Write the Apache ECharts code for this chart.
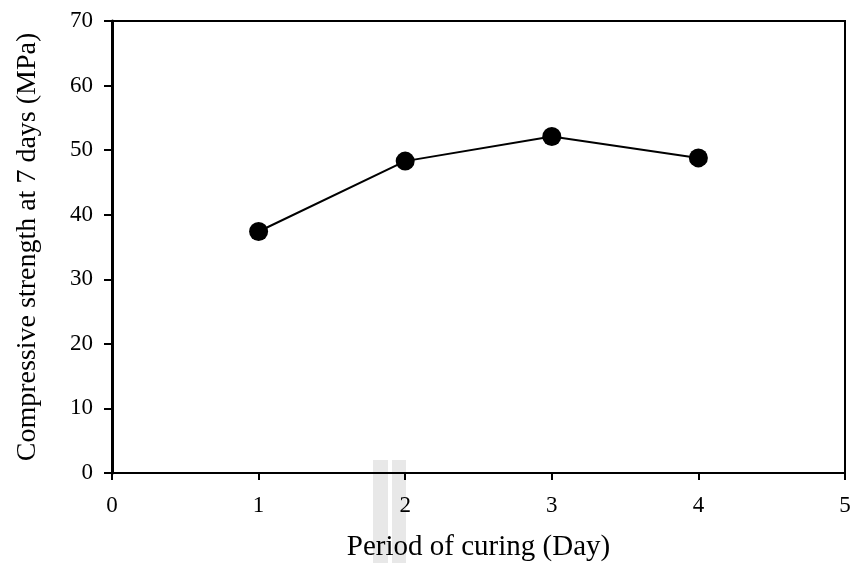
<!DOCTYPE html>
<html>
<head>
<meta charset="utf-8">
<script src="https://cdn.jsdelivr.net/npm/echarts@6/dist/echarts.min.js"></script>
<style>html,body{margin:0;padding:0;background:#fff}#c{width:854px;height:563px}</style>
</head>
<body>
<div id="c"></div>
<script>
const days = [1, 2, 3, 4];
const strength = [37.4, 48.3, 52.1, 48.8];
const xTicks = [0, 1, 2, 3, 4, 5];
const yTicks = [0, 10, 20, 30, 40, 50, 60, 70];
const xTitle = 'Period of curing (Day)';
const yTitle = 'Compressive strength at 7 days (MPa)';

const font = '"Liberation Serif", "Times New Roman", serif';
const chart = echarts.init(document.getElementById('c'));
chart.setOption({
  animation: false,
  backgroundColor: '#fff',
  grid: { left: 112, right: 9, top: 21, bottom: 90, show: true, borderColor: '#000', borderWidth: 2, backgroundColor: 'transparent', containLabel: false, outerBoundsMode: 'none' },
  graphic: [
    { type: 'rect', z: -1, silent: true, shape: { x: 373, y: 460, width: 15, height: 103 }, style: { fill: '#e8e8e8' } },
    { type: 'rect', z: -1, silent: true, shape: { x: 392, y: 460, width: 14, height: 103 }, style: { fill: '#e8e8e8' } }
  ],
  xAxis: {
    type: 'value', min: xTicks[0], max: xTicks[xTicks.length - 1], interval: 1,
    name: xTitle, nameLocation: 'middle', nameGap: 60,
    nameTextStyle: { fontFamily: font, fontSize: 29, color: '#000' },
    axisLine: { lineStyle: { color: '#000', width: 2 } },
    axisTick: { show: true, inside: false, length: 7, lineStyle: { color: '#000', width: 2 } },
    axisLabel: { margin: 21, fontFamily: font, fontSize: 23, color: '#000' },
    splitLine: { show: false }
  },
  yAxis: {
    type: 'value', min: yTicks[0], max: yTicks[yTicks.length - 1], interval: 10,
    name: yTitle, nameLocation: 'middle', nameGap: 70,
    nameTextStyle: { fontFamily: font, fontSize: 28, color: '#000' },
    axisLine: { lineStyle: { color: '#000', width: 3 } },
    axisTick: { show: true, inside: false, length: 8, lineStyle: { color: '#000', width: 2 } },
    axisLabel: { margin: 19, fontFamily: font, fontSize: 23, color: '#000' },
    splitLine: { show: false }
  },
  series: [{
    type: 'line',
    data: days.map((d, i) => [d, strength[i]]),
    symbol: 'circle', symbolSize: 19,
    itemStyle: { color: '#000' },
    lineStyle: { color: '#000', width: 2 }
  }]
});
</script>
</body>
</html>
